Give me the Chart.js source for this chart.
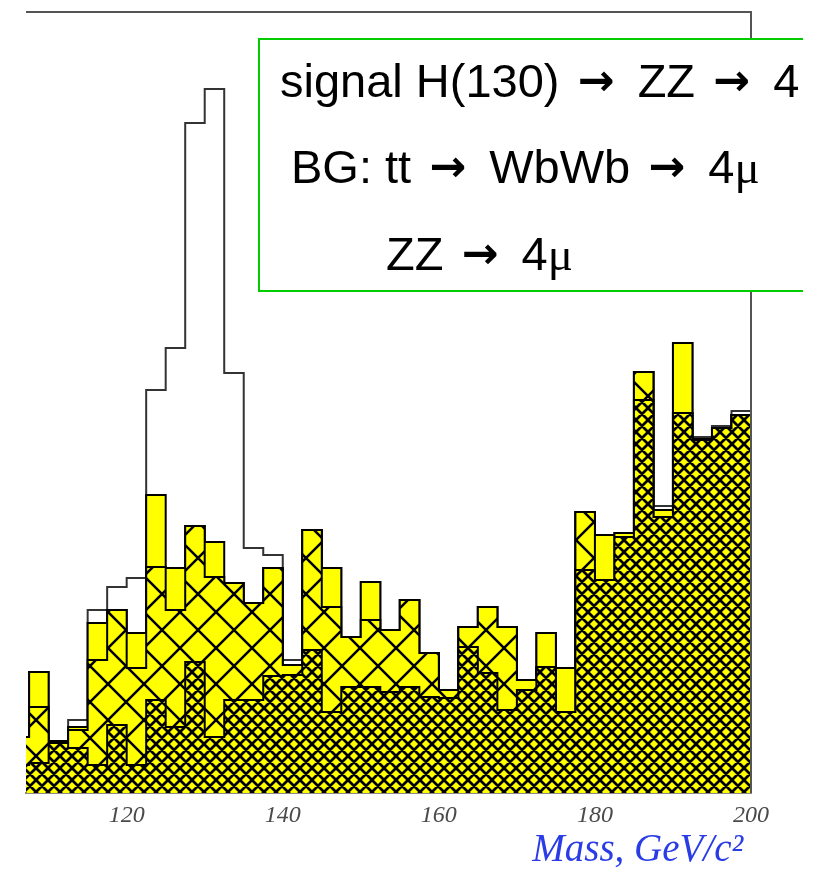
<!DOCTYPE html>
<html><head><meta charset="utf-8">
<script src="https://cdn.jsdelivr.net/npm/chart.js@4.4.1/dist/chart.umd.min.js"></script>
<style>html,body{margin:0;padding:0;background:#fff;}canvas{display:block;}</style>
</head><body>
<canvas id="c" width="814" height="870"></canvas>
<script>
// ---- data (arbitrary event units) ----
const binEdges = [105,107.5,110,112.5,115,117.5,120,122.5,125,127.5,130,132.5,135,137.5,140,142.5,145,147.5,150,152.5,155,157.5,160,162.5,165,167.5,170,172.5,175,177.5,180,182.5,185,187.5,190,192.5,195,197.5,200];
const totalSigBG = [5.6,12.1,5.2,7.3,18.3,20.6,21.5,40.3,44.5,67.0,70.4,42.0,24.5,23.8,13.3,26.3,22.5,15.6,21.1,16.3,19.3,14.0,10.3,16.6,18.6,16.6,11.3,16.0,12.5,28.1,25.8,26.0,42.1,28.7,45.0,35.6,36.7,38.2];
const bgAll      = [5.6,12.1,5.2,6.6,17.0,18.3,16.0,29.8,22.5,26.7,25.1,21.0,19.0,22.5,12.8,26.3,22.5,15.6,21.1,16.3,19.3,14.0,10.3,16.6,18.6,16.6,11.3,16.0,12.5,28.1,25.8,26.0,42.1,28.3,45.0,35.4,36.5,37.8];
const bgTT       = [5.6,8.6,5.2,6.3,13.3,18.3,12.5,22.6,18.3,26.7,21.6,21.0,19.0,22.5,12.8,26.3,18.6,15.6,17.3,16.3,19.3,14.0,10.3,16.6,18.6,16.6,11.3,12.6,8.1,28.1,21.3,25.6,42.1,27.6,38.0,35.4,36.5,37.8];
const bgZZ       = [2.8,3.0,5.0,4.5,2.8,6.8,2.8,9.3,6.6,13.1,5.6,9.3,9.3,11.7,11.8,14.3,8.1,10.6,10.6,10.1,10.6,9.6,9.5,14.6,12.0,8.3,10.3,12.6,8.1,22.3,21.3,25.6,39.3,27.6,38.0,35.3,36.5,37.8];
const xTicks = [120,140,160,180,200];
const xTitle = 'Mass, GeV/c\u00B2\u2009';
// legend text pieces: [text, kind]  (s = sans, a = arrow, g = greek)
const legendLines = [
  [['signal H(130) ','s'],['\u2192','a'],[' ZZ ','s'],['\u2192','a'],[' 4','s'],['\u03BC','g']],
  [['BG: tt ','s'],['\u2192','a'],[' WbWb ','s'],['\u2192','a'],[' 4','s'],['\u03BC','g']],
  [['ZZ ','s'],['\u2192','a'],[' 4','s'],['\u03BC','g']]
];

// ---- helpers ----
function steps(vals){
  const pts = vals.map((v,i)=>({x:binEdges[i], y:v}));
  pts.push({x:binEdges[vals.length], y:vals[vals.length-1]});
  return pts;
}
function hatch(P, lw){
  const c = document.createElement('canvas'); c.width=P; c.height=P;
  const g = c.getContext('2d');
  g.fillStyle='#ffff00'; g.fillRect(0,0,P,P);
  g.strokeStyle='#000'; g.lineWidth=lw; g.beginPath();
  for(let k=-1;k<=1;k++){
    g.moveTo(k*P,0); g.lineTo(k*P+P,P);
    g.moveTo(k*P+P,0); g.lineTo(k*P,P);
  }
  g.stroke();
  return g.createPattern(c,'repeat');
}
const widePat = hatch(36, 2.5);
const densePat = hatch(12, 2.7);

function histo(label, vals, fillStyle, border, order){
  return {label, data:steps(vals), stepped:true, fill:'origin', backgroundColor:fillStyle,
    borderColor:border, borderWidth:2, pointRadius:0, pointHoverRadius:0, tension:0, order, clip:0};
}

const fonts = {
  s:'47px "Liberation Sans", Arial, sans-serif',
  a:'bold 44px "DejaVu Sans", sans-serif',
  g:'47px "Liberation Serif", "Times New Roman", serif'
};

const framePlugin = {
  id:'frame',
  afterDatasetsDraw(chart){
    const {ctx, chartArea:a} = chart;
    ctx.save();
    ctx.strokeStyle='#555'; ctx.lineWidth=2;
    ctx.beginPath();
    ctx.moveTo(a.left, a.top); ctx.lineTo(a.right, a.top); ctx.lineTo(a.right, a.bottom);
    ctx.stroke();
    ctx.restore();
  },
  afterDraw(chart){
    const ctx = chart.ctx;
    ctx.save();
    ctx.beginPath(); ctx.rect(0,0,803,870); ctx.clip();
    ctx.fillStyle='#fff'; ctx.fillRect(259,39,560,252);
    ctx.strokeStyle='#00cc00'; ctx.lineWidth=2;
    ctx.beginPath();
    ctx.moveTo(820,39); ctx.lineTo(259,39); ctx.lineTo(259,291); ctx.lineTo(820,291);
    ctx.stroke();
    const pos = [[280,97],[291,183],[386,270]];
    ctx.fillStyle='#000'; ctx.textBaseline='alphabetic';
    legendLines.forEach((ln,i)=>{
      let x = pos[i][0];
      ln.forEach(([t,k])=>{
        ctx.font = fonts[k];
        if (k==='a') {
          ctx.fillText(t, x + 5, pos[i][1] - 2);
          x += 52;
        } else {
          ctx.fillText(t, x, pos[i][1]);
          x += ctx.measureText(t).width;
        }
      });
    });
    ctx.restore();
  }
};

new Chart(document.getElementById('c'), {
  type:'line',
  data:{datasets:[
    histo('signal + BG', totalSigBG, '#ffffff', '#333333', 4),
    histo('BG', bgAll, '#ffff00', '#000000', 3),
    histo('tt \u2192 WbWb \u2192 4\u03BC', bgTT, widePat, '#000000', 2),
    histo('ZZ \u2192 4\u03BC', bgZZ, densePat, '#000000', 1)
  ]},
  options:{
    responsive:false, animation:false, devicePixelRatio:1,
    layout:{padding:{left:26, right:63, top:12, bottom:0}},
    plugins:{legend:{display:false}, tooltip:{enabled:false}},
    scales:{
      x:{type:'linear', min:107.1, max:200, z:1,
        afterBuildTicks(s){ s.ticks = xTicks.map(v=>({value:v})); },
        afterFit(s){ s.height = 77; },
        grid:{display:false, drawTicks:false},
        border:{display:true, color:'#8a8a8a', width:2},
        ticks:{padding:8, color:'#4a4a4a', maxRotation:0, autoSkip:false,
          font:{family:'"Liberation Serif", "Times New Roman", serif', style:'italic', size:24}},
        title:{display:true, text:xTitle, align:'end', color:'#2a3ce6',
          font:{family:'"Liberation Serif", "Times New Roman", serif', style:'italic', size:39, lineHeight:1},
          padding:{top:0, bottom:0}}
      },
      y:{display:false, min:0, max:78.1}
    }
  },
  plugins:[framePlugin]
});
</script>
</body></html>
